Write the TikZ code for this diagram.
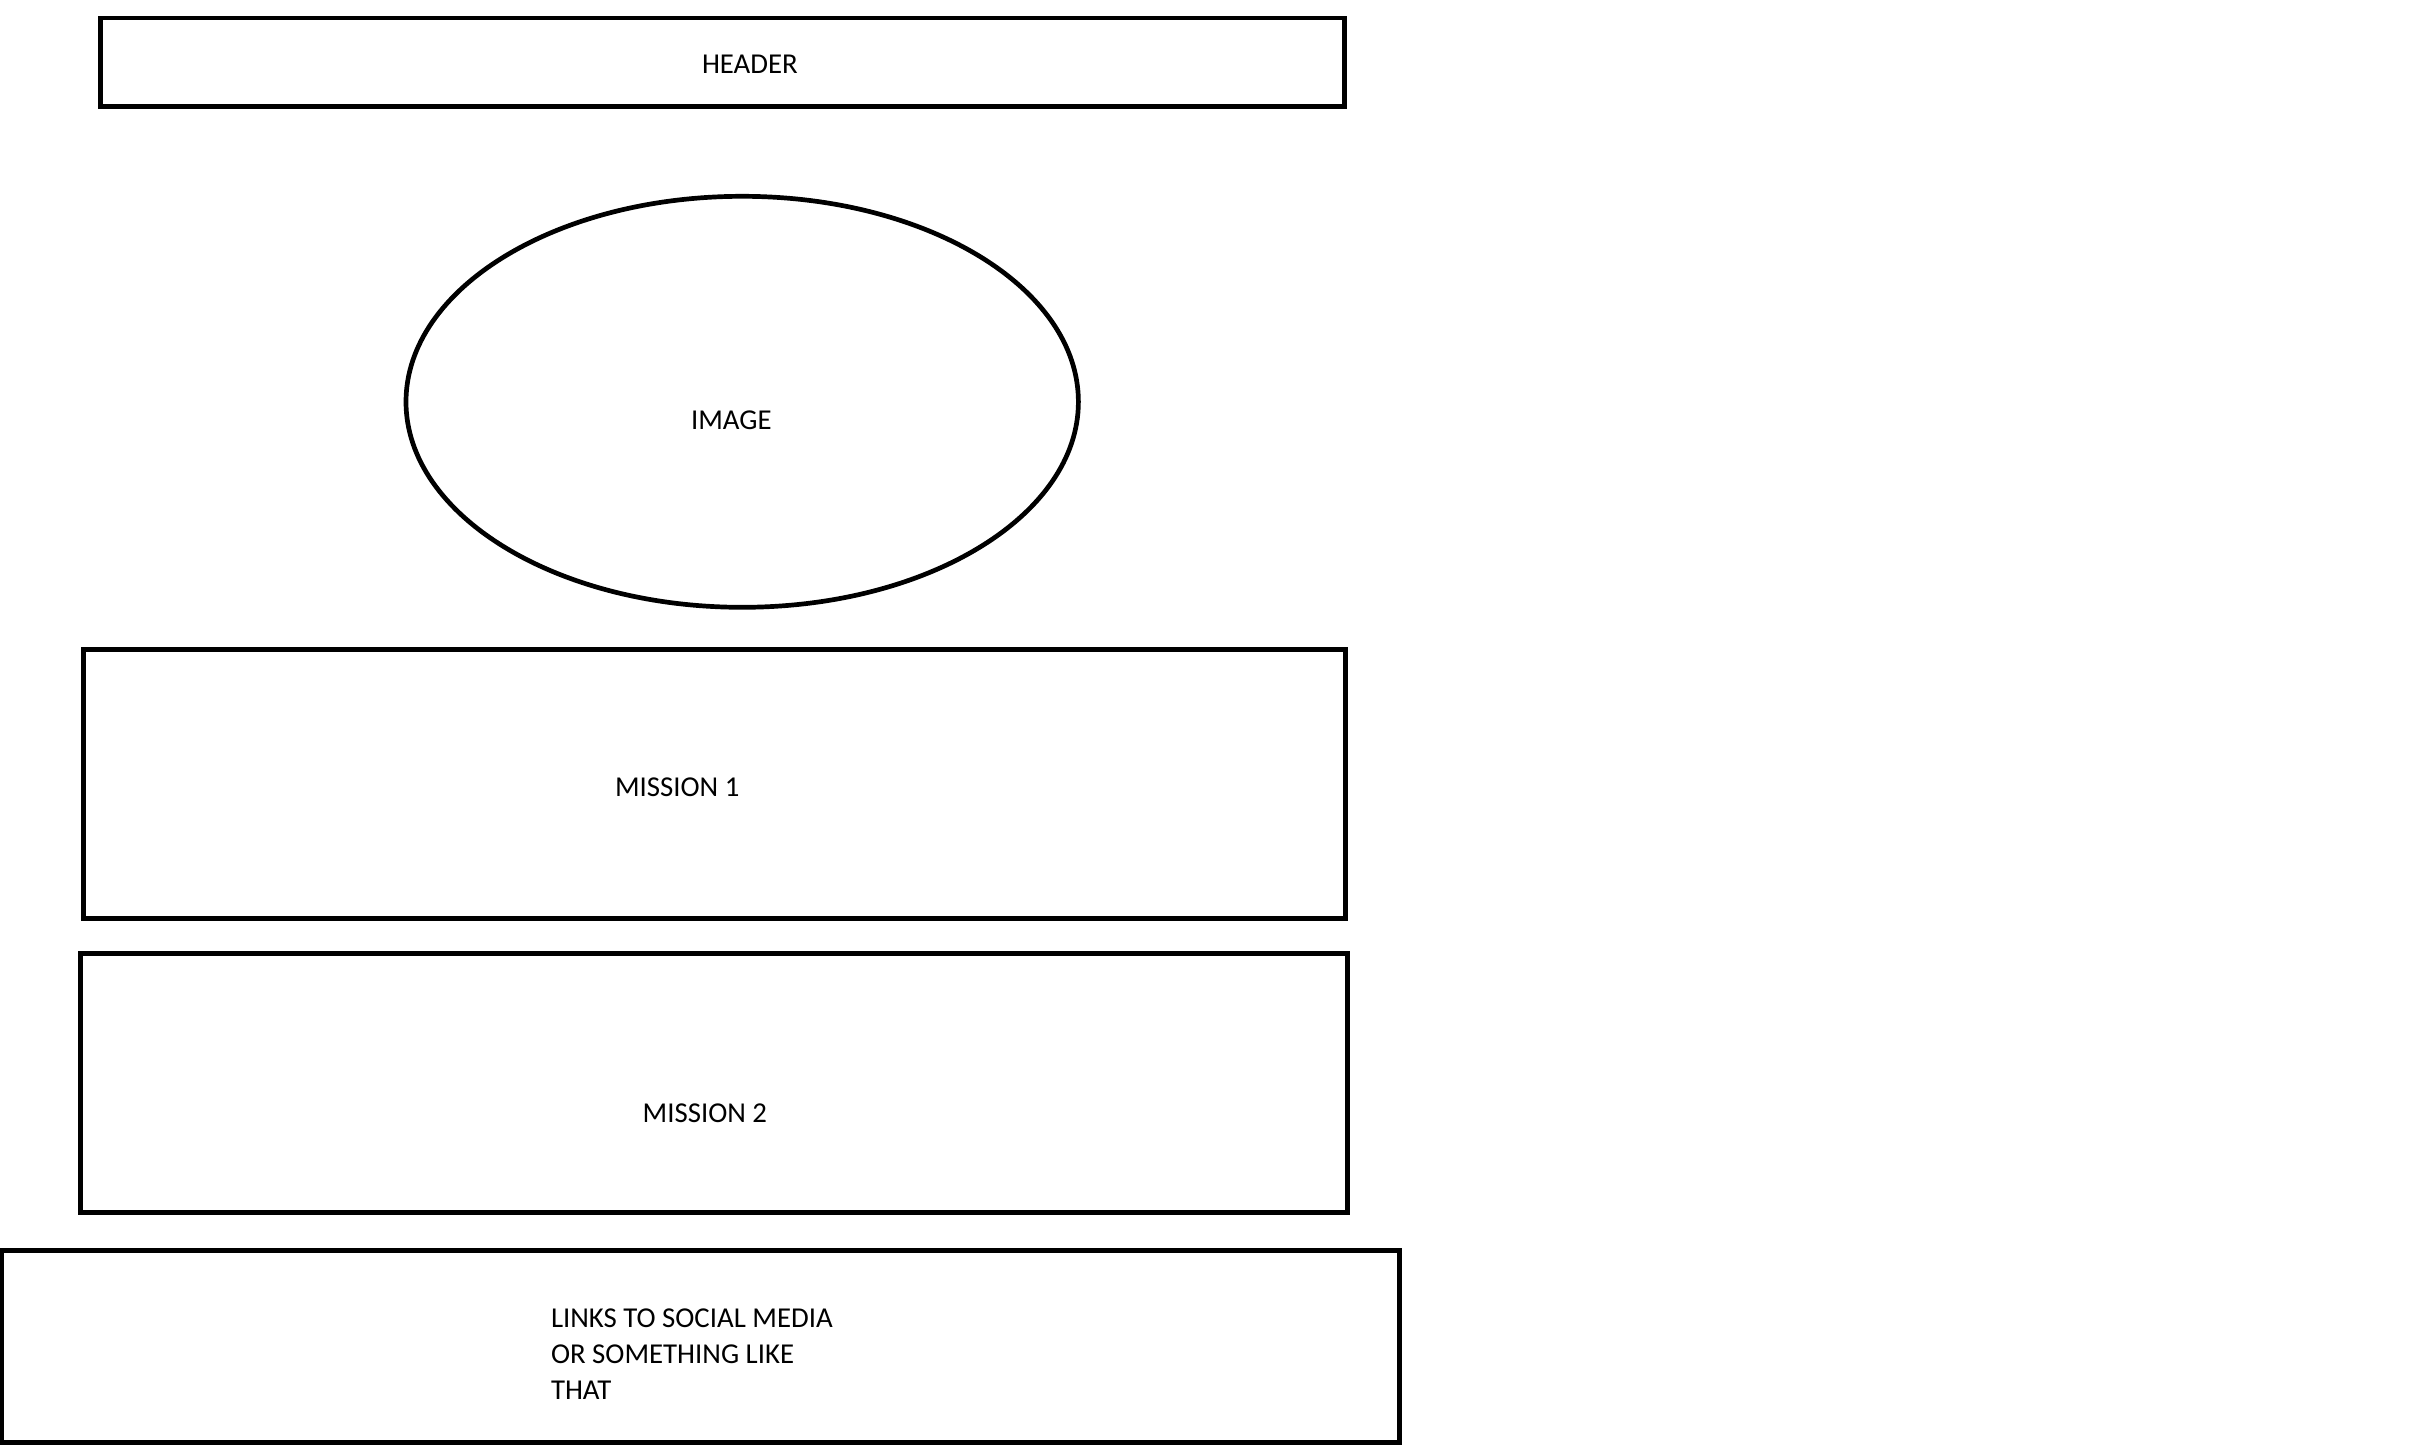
\documentclass[tikz,border=0pt]{standalone}
\usepackage{fontspec}
\setmainfont{Carlito}
\usetikzlibrary{shapes.geometric}
\begin{document}
\begin{tikzpicture}[x=0.5pt,y=-0.5pt,
  boxshape/.style={draw=black,line width=2.35pt,rectangle,inner sep=0pt,outer sep=0pt},
  ovalshape/.style={draw=black,line width=2.35pt,ellipse,inner sep=0pt,outer sep=0pt},
  label/.style={inner sep=0pt,outer sep=0pt,anchor=base west,font=\fontsize{14.4pt}{18pt}\selectfont,align=left}]
\useasboundingbox (0,0) rectangle (2423,1446);
\fill[white] (0,0) rectangle (2423,1446);
% boxes
\node[boxshape,minimum width=622pt,minimum height=44.15pt] (header) at (722.5,62.25) {};
\node[ovalshape,minimum width=336.2pt,minimum height=205.5pt] (image) at (742.2,401.8) {};
\node[boxshape,minimum width=630.9pt,minimum height=134.45pt] (mission1) at (714.4,783.95) {};
\node[boxshape,minimum width=633.5pt,minimum height=129.35pt] (mission2) at (713.8,1082.95) {};
\node[boxshape,minimum width=698.65pt,minimum height=95.95pt] (links) at (700.65,1346.35) {};
% texts
\node[label] (headertext) at (702,73.5) {HEADER};
\node[label] (imagetext) at (691,429) {IMAGE};
\node[label] (mission1text) at (615,796.7) {MISSION 1};
\node[label] (mission2text) at (642.7,1122.3) {MISSION 2};
\node[label] (linkstext) at (551,1399) {LINKS TO SOCIAL MEDIA\\OR SOMETHING LIKE\\THAT};
\end{tikzpicture}
\end{document}
